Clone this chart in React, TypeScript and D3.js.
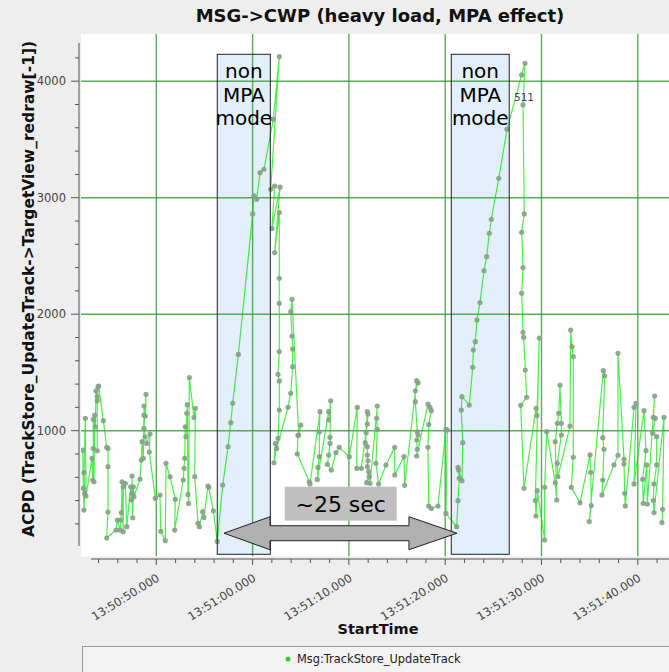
import React from "react";
import * as d3 from "d3";

const TITLE = "MSG->CWP (heavy load, MPA effect)";
const X_LABEL = "StartTime";
const Y_LABEL = "ACPD (TrackStore_UpdateTrack->TargetView_redraw[-1])";
const SERIES_NAME = "Msg:TrackStore_UpdateTrack";
const POINT_LABEL = "511";

// StartTime in seconds after 13:50:00 (in plotting order)
const times = [
  42.36, 42.42, 42.49, 42.56, 42.49, 42.63, 42.70, 43.32, 43.40, 43.46,
  43.46, 43.53, 43.60, 43.67, 43.74, 43.87, 43.87, 43.87, 43.95, 44.02,
  44.50, 44.85, 44.98, 44.98, 44.98, 44.85, 45.82, 45.95, 46.23, 46.30,
  46.37, 46.44, 46.57, 46.57, 46.78, 46.93, 47.34, 47.40, 47.48, 47.48,
  47.55, 47.61, 47.68, 48.31, 48.44, 48.52, 48.65, 48.72, 48.72, 48.86,
  48.93, 48.72, 48.83, 49.00, 49.35, 49.27, 49.90, 50.38, 50.46, 50.93,
  51.01, 51.42, 51.97, 51.91, 52.80, 52.88, 52.95, 53.01, 53.08, 53.16,
  53.22, 53.29, 53.36, 53.43, 53.91, 54.05, 53.99, 54.33, 54.47, 54.82,
  54.95, 55.37, 55.44, 55.92, 56.33, 56.90, 57.45, 57.73, 57.93, 58.52,
  60.01, 60.15, 60.43, 60.77, 61.18, 62.15, 62.77, 61.88, 62.29, 62.01,
  62.85, 62.29, 62.77, 62.77, 62.77, 62.77, 62.64, 62.77, 62.77, 62.64,
  62.22, 62.36, 62.50, 63.68, 63.96, 64.16, 64.16, 64.09, 63.96, 64.09,
  64.79, 65.00, 64.71, 64.64, 65.89, 65.96, 67.00, 66.93, 66.93, 66.79,
  66.72, 67.90, 67.90, 68.11, 68.04, 68.04, 67.90, 67.76, 68.17, 68.66,
  69.00, 70.04, 70.87, 70.81, 71.29, 71.78, 71.91, 71.98, 71.91, 71.70,
  71.91, 71.91, 71.98, 71.91, 72.06, 71.85, 72.12, 72.19, 72.95, 72.89,
  72.95, 72.81, 73.09, 73.85, 74.76, 74.76, 75.72, 75.79, 77.04, 77.18,
  76.90, 76.90, 77.10, 77.18, 77.04, 77.10, 77.04, 78.21, 78.42, 78.56,
  78.29, 78.21, 78.29, 78.56, 79.25, 80.08, 80.22, 80.08, 81.19, 81.33,
  81.46, 81.40, 81.33, 81.74, 81.82, 81.67, 81.74, 82.50, 82.86, 82.92,
  83.13, 83.30, 83.61, 84.03, 84.31, 84.58, 84.79, 85.56, 86.42, 87.94,
  88.29, 88.08, 88.21, 87.94, 88.08, 87.94, 88.08, 88.15, 88.32, 88.46,
  87.84, 88.18, 89.43, 89.53, 89.77, 89.36, 89.43, 89.56, 90.33, 90.33,
  90.54, 91.43, 91.58, 91.43, 91.64, 91.79, 91.92, 92.06, 92.06, 91.64,
  91.71, 92.96, 93.03, 93.17, 93.30, 93.30, 93.09, 94.00, 95.04, 95.11,
  95.17, 94.96, 96.42, 96.56, 96.36, 96.49, 96.36, 96.28, 97.53, 97.94,
  97.94, 98.57, 98.57, 98.64, 98.70, 99.61, 99.81, 99.61, 100.64, 100.85,
  100.51, 100.57, 100.92, 100.99, 101.75, 101.61, 101.82, 101.55, 101.96, 101.96,
  101.68, 101.61, 101.68, 102.72, 102.58, 102.51,
];

// ACPD values (ms), same order as times
const acpd = [
  834, 505, 319, 462, 640, 1106, 439, 763, 577, 848,
  1097, 562, 1134, 1034, 1343, 1292, 828, 1257, 1378, 1383,
  1086, 857, 848, 691, 302, 79, 147, 233, 147, 233,
  296, 562, 133, 519, 548, 176, 519, 405, 462, 611,
  253, 519, 434, 585, 748, 906, 763, 1134, 1212, 1126,
  1312, 1020, 948, 891, 971, 817, 419, 448, 136, 56,
  720, 605, 411, 147, 577, 677, 763, 1034, 948, 1149,
  1223, 453, 376, 1455, 1114, 1192, 605, 205, 176, 305,
  256, 525, 514, 313, 50, 534, 863, 1069, 1235, 1655,
  2861, 3015, 2987, 3215, 3244, 3673, 4211, 3072, 3100, 2735,
  3090, 2529, 2872, 2308, 2093, 1679, 1484, 1427, 1177, 935,
  725, 891, 848, 1201, 1321, 1550, 1701, 1813, 2022, 2128,
  963, 1049, 960, 800, 562, 542, 1163, 989, 777, 685,
  582, 1163, 1092, 1257, 943, 891, 791, 711, 662, 811,
  857, 777, 1200, 677, 677, 983, 1163, 1143, 1057, 897,
  863, 791, 742, 691, 648, 554, 605, 548, 1212, 1106,
  1011, 720, 542, 705, 857, 619, 777, 531, 1429, 1412,
  1343, 1249, 991, 963, 920, 840, 783, 1229, 1200, 1172,
  1054, 857, 353, 333, 353, 1011, 1006, 290, 176, 399,
  591, 662, 685, 571, 897, 1177, 1292, 1220, 1544, 1692,
  1764, 1950, 2100, 2374, 2494, 2695, 2815, 3167, 3587, 4054,
  4154, 3796, 2861, 2703, 2400, 2180, 1845, 1802, 1521, 1287,
  1218, 506, 1192, 1130, 1795, 400, 268, 485, 62, 514,
  992, 554, 405, 906, 1063, 1149, 1392, 1063, 963, 720,
  606, 1040, 1864, 1721, 1636, 772, 514, 382, 792, 643,
  357, 220, 1515, 1470, 940, 840, 577, 448, 706, 789,
  1664, 754, 714, 463, 354, 1201, 1235, 543, 1172, 829,
  583, 377, 706, 371, 1298, 1115, 1106, 978, 949, 706,
  543, 400, 297, 1115, 325, 211,
];

const yMajorTicks = [1000, 2000, 3000, 4000];
const boxStarts = [56.33, 80.63];
const boxEnds = [61.84, 86.65];
const boxLines = ["non", "MPA", "mode"];
const arrowFrom = 57.03;
const arrowTo = 81.22;
const arrowLabel = "~25 sec";

const FONT = "DejaVu Sans, Verdana, sans-serif";

export default function App() {
  const W = 669;
  const H = 672;
  const base = new Date(2000, 0, 1, 13, 50, 0).getTime();
  const toDate = (s: number) => new Date(base + s * 1000);

  const plotL = 81, plotT = 34, plotR = 700, plotB = 556.5;
  const x = d3.scaleTime().domain([toDate(42.18), toDate(106.46)]).range([plotL, plotR]);
  const y = d3.scaleLinear().domain([0, 4000]).range([547.2, 81.2]);

  const pts = times.map((t, i) => ({ t: toDate(t), v: acpd[i] }));
  const line = d3
    .line<{ t: Date; v: number }>()
    .x((d) => x(d.t))
    .y((d) => y(d.v));

  const fmt = d3.timeFormat("%H:%M:%S.%L");
  const majorX = d3.timeSecond.every(10)!.range(toDate(44), toDate(106.46));
  const minorX = d3.timeSecond.every(2)!.range(toDate(43), toDate(106.46));
  const yMinor = d3.range(200, 4400, 200);

  const axisY = 559;
  const gridColor = "rgb(62,158,62)";

  const aL = x(toDate(arrowFrom));
  const aR = x(toDate(arrowTo));
  const aY = y(120);
  const headW = 46;
  const shaftH = 7.5;
  const headH = 16.5;
  const arrowPts = [
    [aL, aY],
    [aL + headW, aY - headH],
    [aL + headW, aY - shaftH],
    [aR - headW - 2, aY - shaftH],
    [aR - headW - 2, aY - headH],
    [aR, aY],
    [aR - headW - 2, aY + headH],
    [aR - headW - 2, aY + shaftH],
    [aL + headW, aY + shaftH],
    [aL + headW, aY + headH],
  ]
    .map((p) => p.join(","))
    .join(" ");

  const labelCx = x(toDate(69.15));
  const ang = (-32 * Math.PI) / 180;
  const cosA = Math.cos(ang);
  const sinA = Math.sin(ang);

  return (
    <svg
      width={W}
      height={H}
      style={{ position: "absolute", left: 0, top: 0, background: "#eeeeee" }}
      fontFamily={FONT}
    >
      <defs>
        <clipPath id="plotClip">
          <rect x={plotL} y={plotT} width={plotR - plotL} height={plotB - plotT} />
        </clipPath>
      </defs>
      <rect x={0} y={0} width={W} height={H} fill="#eeeeee" />
      <text x={380} y={22} textAnchor="middle" fontSize={18} fontWeight="bold" fill="#111">
        {TITLE}
      </text>

      <rect x={plotL} y={plotT} width={plotR - plotL} height={plotB - plotT} fill="#ffffff" />

      <g clipPath="url(#plotClip)">
        {boxStarts.map((s, i) => (
          <rect
            key={"bf" + i}
            x={x(toDate(s))}
            y={54.3}
            width={x(toDate(boxEnds[i])) - x(toDate(s))}
            height={500}
            fill="#e3effb"
          />
        ))}
        {majorX.map((d, i) => (
          <line key={"gx" + i} x1={x(d)} x2={x(d)} y1={plotT} y2={plotB} stroke={gridColor} strokeWidth={1.4} strokeOpacity={0.85} />
        ))}
        {yMajorTicks.map((v) => (
          <line key={"gy" + v} x1={plotL} x2={plotR} y1={y(v)} y2={y(v)} stroke={gridColor} strokeWidth={1.4} strokeOpacity={0.85} />
        ))}
        <path d={line(pts) || ""} fill="none" stroke="rgb(0,230,0)" strokeOpacity={0.7} strokeWidth={1.2} />
        {pts.map((p, i) => (
          <circle key={"p" + i} cx={x(p.t)} cy={y(p.v)} r={2.6} fill="rgb(135,160,135)" fillOpacity={0.9} />
        ))}
        {boxStarts.map((s, i) => (
          <rect
            key={"bs" + i}
            x={x(toDate(s))}
            y={54.3}
            width={x(toDate(boxEnds[i])) - x(toDate(s))}
            height={500}
            fill="none"
            stroke="#222"
            strokeWidth={1}
          />
        ))}
        {boxStarts.map((s, i) => {
          const cx = (x(toDate(s)) + x(toDate(boxEnds[i]))) / 2;
          return boxLines.map((t, j) => (
            <text key={"bt" + i + j} x={cx} y={78 + j * 23.5} textAnchor="middle" fontSize={20} fill="#000">
              {t}
            </text>
          ));
        })}
        <text x={x(toDate(88.08)) - 9} y={101} fontSize={10.5} fill="#444">
          {POINT_LABEL}
        </text>
        <polygon points={arrowPts} fill="#b0b0b0" stroke="#222" strokeWidth={1} />
        <rect x={labelCx - 56} y={486.7} width={112} height={34} fill="#c0c0c0" />
        <text x={labelCx} y={512} textAnchor="middle" fontSize={22} fill="#000">
          {arrowLabel}
        </text>
      </g>

      <line x1={79} x2={79} y1={43} y2={546} stroke="#555" strokeWidth={1} />
      {yMinor.map((v) => (
        <line key={"ym" + v} x1={yMajorTicks.includes(v) ? 71 : 75} x2={79} y1={y(v)} y2={y(v)} stroke="#555" strokeWidth={1} />
      ))}
      {yMajorTicks.map((v) => (
        <text key={"yl" + v} x={66} y={y(v)} dy="0.35em" textAnchor="end" fontSize={11.5} fill="#444">
          {v}
        </text>
      ))}
      <g transform="translate(33.5,289) rotate(-90)">
        <text x={0} y={0} textAnchor="middle" fontSize={15.5} fontWeight="bold" fill="#111">
          {Y_LABEL}
        </text>
      </g>

      <line x1={91} x2={W} y1={axisY} y2={axisY} stroke="#555" strokeWidth={1} />
      {minorX.map((d, i) => {
        const major = d.getSeconds() % 10 === 0;
        return (
          <line key={"xm" + i} x1={x(d)} x2={x(d)} y1={axisY} y2={axisY + (major ? 6 : 4)} stroke="#555" strokeWidth={1} />
        );
      })}
      {majorX.map((d, i) => (
        <g
          key={"xl" + i}
          transform={`matrix(${cosA},${sinA},${-sinA},${cosA},${x(d) + 4},580)`}
        >
          <text x={0} y={0} textAnchor="end" fontSize={11.5} fill="#444">
            {fmt(d)}
          </text>
        </g>
      ))}
      <text x={378} y={634} textAnchor="middle" fontSize={14.5} fontWeight="bold" fill="#111">
        {X_LABEL}
      </text>

      <rect x={82.5} y={646.5} width={700} height={40} fill="#f3f3f3" stroke="#9a9a9a" strokeWidth={1} />
      <circle cx={288} cy={659} r={2.5} fill="#33cc33" />
      <text x={297} y={663} fontSize={11.4} fill="#222">
        {SERIES_NAME}
      </text>
    </svg>
  );
}
